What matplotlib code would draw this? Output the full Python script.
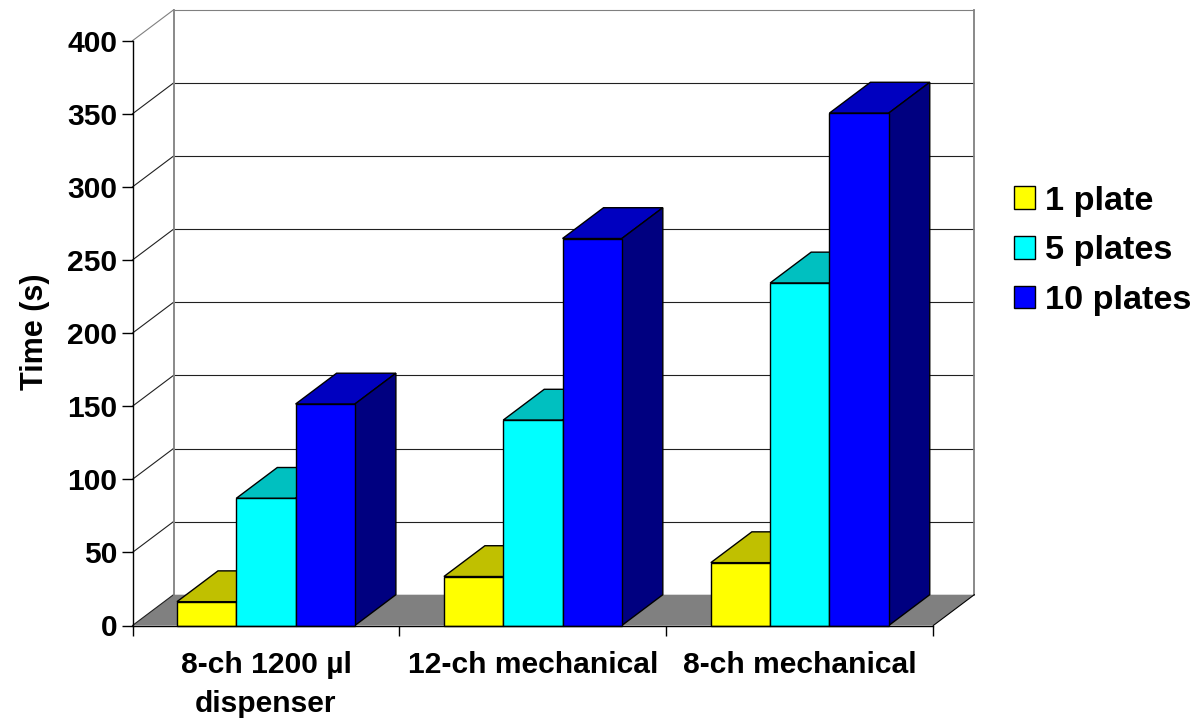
import matplotlib
matplotlib.use("Agg")
import matplotlib.pyplot as plt
from matplotlib.patches import Polygon, Patch

categories = ["8-ch 1200 µl\ndispenser", "12-ch mechanical", "8-ch mechanical"]
series_names = ["1 plate", "5 plates", "10 plates"]
plate1 = [16.3, 33.5, 43]
plate5 = [87, 140.5, 234.3]
plate10 = [151.5, 264.7, 350.5]
yticks = [0, 50, 100, 150, 200, 250, 300, 350, 400]
front_colors = ["#FFFF00", "#00FFFF", "#0000FF"]
top_colors = ["#C0C000", "#00C0C0", "#0000C0"]
side_colors = ["#808000", "#008080", "#000080"]

plt.rcParams["font.family"] = ["Liberation Sans", "DejaVu Sans"]
plt.rcParams["font.weight"] = "bold"

W, H = 1199, 718
fig = plt.figure(figsize=(W / 100, H / 100), dpi=100)
L, R, T, B = 132.5, 933.3, 40.7, 625.5
ax = fig.add_axes([L / W, 1 - B / H, (R - L) / W, (B - T) / H])
ax.set_xlim(0, 3)
ax.set_ylim(0, 400)
ax.patch.set_visible(False)
for s in ax.spines.values():
    s.set_visible(False)

DX = 41.0 / ((R - L) / 3)      # depth in x units
DY = 30.8 / ((B - T) / 400)    # depth in y units
GAP = 44.5 / ((R - L) / 3)
BW = 59.3 / ((R - L) / 3)
GRAY = "#808080"
LW = 1.0
GRID = 0.8

# floor
ax.add_patch(Polygon([(0, 0), (3, 0), (3 + DX, DY), (DX, DY)], closed=True, fc=GRAY,
                     ec="none", clip_on=False, zorder=1))
# walls and grid
for y in yticks:
    c = GRAY if y == yticks[-1] else "#202020"
    if y != yticks[0]:
        ax.plot([DX, 3 + DX], [y + DY, y + DY], color=c, lw=GRID, clip_on=False, zorder=1.5,
                solid_capstyle="butt")
    ax.plot([0, DX], [y, y + DY], color=c, lw=GRID, clip_on=False, zorder=1.5)
ax.plot([DX, DX], [DY, yticks[-1] + DY], color=GRAY, lw=1.3, clip_on=False, zorder=1.6)
ax.plot([3 + DX, 3 + DX], [DY, yticks[-1] + DY], color=GRAY, lw=1.3, clip_on=False, zorder=1.6)
ax.plot([3, 3 + DX], [0, DY], color="black", lw=GRID, clip_on=False, zorder=1.6)

# bars
all_values = [plate1, plate5, plate10]
z = 2
for g in range(len(categories)):
    for k, vals in enumerate(all_values):
        x0 = g + GAP + k * BW
        x1 = x0 + BW
        v = vals[g]
        kw = dict(closed=True, ec="black", lw=LW, clip_on=False, zorder=z, joinstyle="miter")
        ax.add_patch(Polygon([(x0, v), (x1, v), (x1 + DX, v + DY), (x0 + DX, v + DY)],
                             fc=top_colors[k], **kw))
        ax.add_patch(Polygon([(x1, 0), (x1 + DX, DY), (x1 + DX, v + DY), (x1, v)],
                             fc=side_colors[k], **kw))
        ax.add_patch(Polygon([(x0, 0), (x1, 0), (x1, v), (x0, v)],
                             fc=front_colors[k], **kw))
        z += 1

# front axes
ax.plot([0, 0], [0, yticks[-1]], color="black", lw=LW, clip_on=False, zorder=50)
ax.plot([0, 3], [0, 0], color="black", lw=LW, clip_on=False, zorder=50)

ax.set_yticks(yticks)
ax.tick_params(axis="y", length=8, width=LW, pad=3, labelsize=21.6)
ax.set_xticks([0, 1, 2, 3])
ax.set_xticklabels([])
ax.tick_params(axis="x", which="major", length=7.5, width=LW)
ax.set_xticks([0.5, 1.5, 2.5], categories, minor=True, fontsize=21.6, linespacing=1.47)
ax.tick_params(axis="x", which="minor", length=0, pad=18.5)
ax.set_ylabel("Time (s)", fontsize=22, fontweight="bold")
ax.yaxis.set_label_coords(50 / W, 1 - 332 / H, transform=fig.transFigure)

handles = [Patch(fc=c, ec="black", lw=LW) for c in front_colors]
fig.legend(handles, series_names, frameon=False, prop={"size": 24.7, "weight": "bold"},
           loc="center left", bbox_to_anchor=(1013.5 / W, 1 - 251 / H), borderpad=0, borderaxespad=0,
           handlelength=0.64, handleheight=0.64, handletextpad=0.28, labelspacing=0.545)

fig.savefig("out.png", dpi=100)
